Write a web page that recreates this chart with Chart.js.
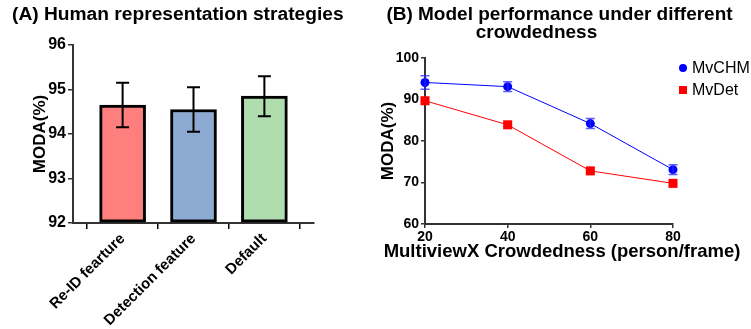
<!DOCTYPE html>
<html>
<head>
<meta charset="utf-8">
<script src="https://cdn.jsdelivr.net/npm/chart.js@4/dist/chart.umd.min.js"></script>
<style>
  html, body { margin: 0; padding: 0; background: #fff; }
  #wrap { position: relative; width: 751px; height: 329px; }
  .box { position: absolute; top: 0; height: 329px; }
  #boxA { left: 0; width: 375px; }
  #boxB { left: 375px; width: 376px; }
</style>
</head>
<body>
<div id="wrap">
  <div class="box" id="boxA"><canvas id="chartA" width="375" height="329"></canvas></div>
  <div class="box" id="boxB"><canvas id="chartB" width="376" height="329"></canvas></div>
</div>
<script>
// ---- Data: panel A ----
const strategies = ['Re-ID fearture', 'Detection feature', 'Default'];
const strategyModa = [94.65, 94.55, 94.85];
const strategyErr = [0.5, 0.5, 0.45];
const strategyColors = ['#FF7F7F', '#8DAAD2', '#B0DDAD'];
const yTicksA = [92, 93, 94, 95, 96];

// ---- Data: panel B ----
const crowdedness = [20, 40, 60, 80];
const mvchm = [94.1, 93.1, 84.2, 73.1];
const mvchmErr = [1.6, 1.2, 1.2, 1.15];
const mvdet = [89.7, 83.9, 72.8, 69.8];
const yTicksB = [60, 70, 80, 90, 100];

const FONT = '"Liberation Sans", Arial, Helvetica, sans-serif';
Chart.defaults.font.family = FONT;
Chart.defaults.color = '#000';
Chart.defaults.animation = false;

// Error bar plugin: uses chart scales to position error bars
const errorBars = {
  id: 'errorBars',
  afterDatasetsDraw(chart) {
    const ctx = chart.ctx;
    const yScale = chart.scales.y;
    chart.data.datasets.forEach((ds, di) => {
      if (!ds.errors) return;
      const meta = chart.getDatasetMeta(di);
      ctx.save();
      ctx.strokeStyle = ds.errorColor || '#000';
      ctx.lineWidth = ds.errorWidth || 2;
      meta.data.forEach((el, i) => {
        const v = ds.data[i].y;
        const e = ds.errors[i];
        const x = el.x;
        const yTop = yScale.getPixelForValue(v + e);
        const yBot = yScale.getPixelForValue(v - e);
        const cap = ds.capWidth || 8;
        ctx.beginPath();
        ctx.moveTo(x, yTop); ctx.lineTo(x, yBot);
        ctx.moveTo(x - cap, yTop); ctx.lineTo(x + cap, yTop);
        ctx.moveTo(x - cap, yBot); ctx.lineTo(x + cap, yBot);
        ctx.stroke();
      });
      ctx.restore();
    });
  }
};

// Simple legend drawn to the right of the chart area, using dataset labels/styles
const sideLegend = {
  id: 'sideLegend',
  afterDraw(chart) {
    const ctx = chart.ctx;
    const area = chart.chartArea;
    ctx.save();
    ctx.font = '16px ' + FONT;
    ctx.textBaseline = 'middle';
    ctx.textAlign = 'left';
    chart.data.datasets.forEach((ds, i) => {
      const cx = area.right + 10;
      const cy = area.top + 10 + i * 22;
      ctx.fillStyle = ds.backgroundColor;
      if (ds.pointStyle === 'rect') {
        ctx.fillRect(cx - 4, cy - 4, 8, 8);
      } else {
        ctx.beginPath();
        ctx.arc(cx, cy, 4, 0, Math.PI * 2);
        ctx.fill();
      }
      ctx.fillStyle = '#000';
      ctx.fillText(ds.label, cx + 9, cy + 1);
    });
    ctx.restore();
  }
};

// Free text (titles) drawn without width compression
const panelText = {
  id: 'panelText',
  afterDraw(chart, args, opts) {
    const ctx = chart.ctx;
    ctx.save();
    ctx.fillStyle = '#000';
    ctx.textBaseline = 'middle';
    (opts.items || []).forEach(it => {
      ctx.font = (it.weight || 'bold') + ' ' + it.size + 'px ' + FONT;
      ctx.textAlign = it.align || 'left';
      ctx.fillText(it.text, it.x, it.y);
    });
    ctx.restore();
  }
};

// ---------------- Panel A ----------------
new Chart(document.getElementById('chartA'), {
  type: 'bar',
  data: {
    datasets: [{
      data: strategyModa.map((v, i) => ({ x: i, y: v })),
      errors: strategyErr,
      errorColor: '#000',
      errorWidth: 2,
      capWidth: 6.5,
      backgroundColor: strategyColors,
      borderColor: '#000',
      borderWidth: 3,
      borderSkipped: false,
      barThickness: 46,
      base: 92
    }]
  },
  options: {
    responsive: false,
    layout: { padding: { left: 0, right: 61, top: 45, bottom: 0 } },
    plugins: {
      legend: { display: false },
      tooltip: { enabled: false },
      title: { display: false },
      panelText: {
        items: [
          { text: '(A) Human representation strategies', x: 12, y: 15, size: 19.2, align: 'left' }
        ]
      }
    },
    scales: {
      x: {
        type: 'linear',
        offset: false,
        min: -0.7, max: 2.7,
        afterBuildTicks: (s) => { s.ticks = strategies.map((c, i) => ({ value: i })); },
        afterFit: (s) => { s.height = 106; },
        ticks: {
          callback: (v) => strategies[v] ?? '',
          minRotation: 45, maxRotation: 45,
          font: { size: 15, weight: 'bold' },
          color: '#000',
          padding: 1
        },
        grid: { drawOnChartArea: false, drawTicks: true, tickLength: 6, color: '#000', lineWidth: 1.5 },
        border: { display: true, color: '#333', width: 2 }
      },
      y: {
        min: 92, max: 96,
        afterBuildTicks: (s) => { s.ticks = yTicksA.map(v => ({ value: v })); },
        afterFit: (s) => { s.width = 73; },
        ticks: { font: { size: 16, weight: 'bold' }, color: '#000', padding: 2 },
        title: { display: true, text: 'MODA(%)', font: { size: 17, weight: 'bold' }, color: '#000', padding: { top: 30, bottom: 0 } },
        grid: { drawOnChartArea: false, drawTicks: true, tickLength: 5, color: '#333', lineWidth: 1.5 },
        border: { display: true, color: '#333', width: 2 }
      }
    }
  },
  plugins: [errorBars, panelText]
});

// ---------------- Panel B ----------------
new Chart(document.getElementById('chartB'), {
  type: 'line',
  data: {
    datasets: [{
      label: 'MvCHM',
      data: crowdedness.map((c, i) => ({ x: c, y: mvchm[i] })),
      errors: mvchmErr,
      errorColor: 'rgba(40,40,255,0.75)',
      errorWidth: 1.5,
      capWidth: 4.5,
      borderColor: '#0000FF',
      backgroundColor: '#0000FF',
      borderWidth: 1,
      pointStyle: 'circle',
      pointRadius: 4.5,
      pointBorderWidth: 0
    }, {
      label: 'MvDet',
      data: crowdedness.map((c, i) => ({ x: c, y: mvdet[i] })),
      borderColor: '#FF0000',
      backgroundColor: '#FF0000',
      borderWidth: 1,
      pointStyle: 'rect',
      pointRadius: 6.4,
      pointBorderWidth: 0
    }]
  },
  options: {
    responsive: false,
    clip: false,
    layout: { padding: { left: 0, right: 78, top: 58, bottom: 88 } },
    plugins: {
      legend: { display: false },
      tooltip: { enabled: false },
      title: { display: false },
      panelText: {
        items: [
          { text: '(B) Model performance under different', x: 184.5, y: 15, size: 19, align: 'center' },
          { text: 'crowdedness', x: 161.5, y: 33, size: 19, align: 'center' },
          { text: 'MultiviewX Crowdedness (person/frame)', x: 187, y: 252, size: 18.5, align: 'center' }
        ]
      }
    },
    scales: {
      x: {
        type: 'linear',
        min: 20, max: 80,
        afterBuildTicks: (s) => { s.ticks = crowdedness.map(v => ({ value: v })); },
        ticks: { font: { size: 14, weight: 'bold' }, color: '#000', padding: 1 },
        grid: { drawOnChartArea: false, drawTicks: true, tickLength: 4, color: '#333', lineWidth: 1.5 },
        border: { display: true, color: '#333', width: 2 },
        afterFit: (s) => { s.height = 17; }
      },
      y: {
        min: 60, max: 100,
        afterBuildTicks: (s) => { s.ticks = yTicksB.map(v => ({ value: v })); },
        afterFit: (s) => { s.width = 50; },
        ticks: { font: { size: 14, weight: 'bold' }, color: '#000', padding: 2 },
        title: { display: true, text: 'MODA(%)', font: { size: 17, weight: 'bold' }, color: '#000', padding: { top: 3, bottom: 0 } },
        grid: { drawOnChartArea: false, drawTicks: true, tickLength: 4, color: '#333', lineWidth: 1.5 },
        border: { display: true, color: '#333', width: 2 }
      }
    }
  },
  plugins: [errorBars, sideLegend, panelText]
});
</script>
</body>
</html>
